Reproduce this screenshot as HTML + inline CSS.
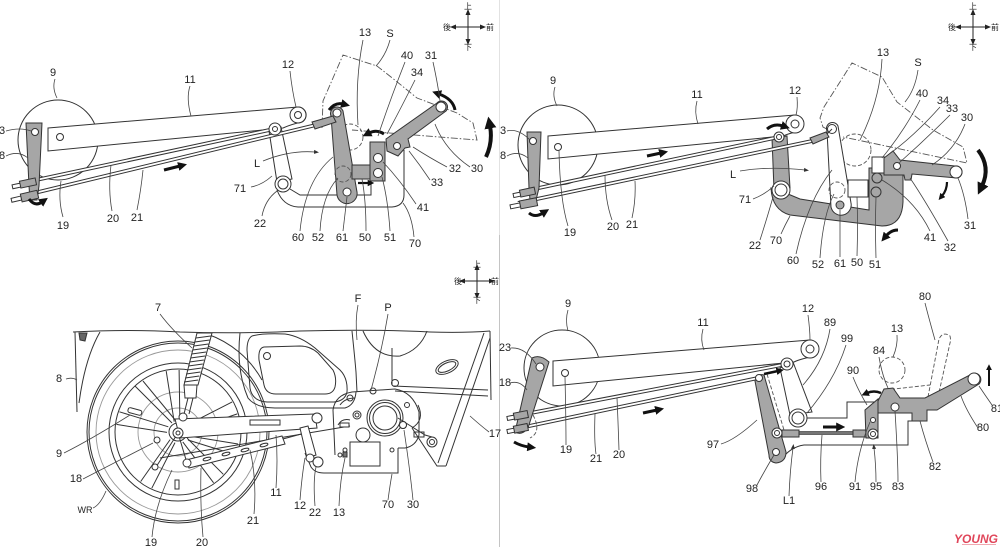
<!DOCTYPE html>
<html><head><meta charset="utf-8">
<style>
html,body{margin:0;padding:0;background:#fff}
svg{display:block}
.l{fill:none;stroke:#333;stroke-width:1}
.lg{fill:none;stroke:#999;stroke-width:0.9}
.t{fill:none;stroke:#444;stroke-width:0.8}
.w{fill:#fff;stroke:#333;stroke-width:1}
.g{fill:#a6a6a6;stroke:#333;stroke-width:1}
.d{fill:none;stroke:#555;stroke-width:0.9;stroke-dasharray:4 2}
.dd{fill:none;stroke:#555;stroke-width:0.9;stroke-dasharray:7 2 1.5 2}
.a{fill:none;stroke:#111;stroke-width:3;marker-end:url(#ah)}
.rd{stroke:#333;stroke-width:3.8;fill:none}
.ri{stroke:#fff;stroke-width:1.8;fill:none}
text{font-family:"Liberation Sans",sans-serif;font-size:11px;fill:#222;text-anchor:middle}
.c{font-family:"Liberation Sans","Noto Sans CJK JP",sans-serif;font-size:8px}
</style></head><body>
<svg width="1000" height="547" viewBox="0 0 1000 547" xmlns="http://www.w3.org/2000/svg">
<defs>
<marker id="ah" markerWidth="3" markerHeight="3" refX="0.6" refY="1.5" orient="auto" markerUnits="strokeWidth"><path d="M0,0 L3,1.5 L0,3 Z" fill="#111"/></marker>
<marker id="ca" markerWidth="6" markerHeight="6" refX="1" refY="3" orient="auto" markerUnits="userSpaceOnUse"><path d="M0,0.5 L6,3 L0,5.5 Z" fill="#222"/></marker>
<marker id="th" markerWidth="6" markerHeight="6" refX="1" refY="3" orient="auto" markerUnits="userSpaceOnUse"><path d="M0,1 L5,3 L0,5 Z" fill="#333"/></marker>
</defs>

<!-- divider -->
<line x1="499.5" y1="0" x2="499.5" y2="235" stroke="#e2e2e2" stroke-width="1"/>
<line x1="499.5" y1="235" x2="499.5" y2="547" stroke="#c4c4c4" stroke-width="1"/>

<!-- ===================== PANEL 1 ===================== -->
<g stroke="#222" stroke-width="1">
<line x1="468" y1="27" x2="468" y2="14" marker-end="url(#ca)"/>
<line x1="468" y1="27" x2="468" y2="40" marker-end="url(#ca)"/>
<line x1="468" y1="27" x2="455" y2="27" marker-end="url(#ca)"/>
<line x1="468" y1="27" x2="481" y2="27" marker-end="url(#ca)"/>
</g>
<text class="c" x="468" y="9">上</text><text class="c" x="468" y="50">下</text>
<text class="c" x="447" y="30">後</text><text class="c" x="490" y="30">前</text>

<circle cx="58" cy="140" r="40" class="w"/>
<path class="w" d="M48,128 L298,107 A8,8 0 0 1 302,122 Q292,124 283,128 L48,151 Z"/>
<circle cx="298" cy="115" r="8" class="w"/><circle cx="298" cy="115" r="3.5" class="w"/>
<circle cx="60" cy="137" r="3.5" class="w"/>

<path class="l" d="M277,190 Q283,206 298,207 L392,207 Q404,206 404,195 L404,150"/>
<path class="l" d="M290,189 L300,195 L371,195 L371,181"/>
<path class="w" d="M269,131 L281,127 L292,179 L277,182 Z"/>
<circle cx="283" cy="184" r="8" class="w"/><circle cx="283" cy="184" r="5" class="w"/>

<path class="dd" d="M322,128 L323,101 L343,55 L377,66 Q395,80 417,98 L457,113 L473,123 L477,140 L352,130"/>
<circle cx="350" cy="137" r="13" class="d"/>

<path class="g" d="M331,116 A6,6 0 0 1 343,111 L357,192 A10,10 0 0 1 337,195 Z"/>
<circle cx="343" cy="174" r="8" class="d"/>
<rect x="352" y="165" width="22" height="14" class="g"/>
<circle cx="337" cy="113" r="4" class="w"/><circle cx="347" cy="192" r="4" class="w"/>
<rect x="370" y="142" width="15" height="39" class="g"/>
<circle cx="378" cy="158" r="4.5" class="w"/><circle cx="378" cy="173" r="4.5" class="w"/>
<path class="g" d="M386,139 L437,103 A6,6 0 0 1 446,111 L408,139 L410,147 L405,148 L398,156 L387,151 Z"/>
<circle cx="441" cy="107" r="5" class="w"/><circle cx="397" cy="146" r="3.5" class="w"/>

<line x1="22" y1="183" x2="274" y2="129" class="rd"/><line x1="22" y1="183" x2="274" y2="129" class="ri"/>
<line x1="22" y1="196" x2="316" y2="125" class="rd"/><line x1="22" y1="196" x2="316" y2="125" class="ri"/>
<path class="g" d="M312,122 L333,116 L336,122 L315,129 Z"/>
<circle cx="275" cy="129" r="6" class="w"/><circle cx="275" cy="129" r="2.5" class="w"/>

<path class="g" d="M26,123 L42,123 L39,186 L37,200 L30,200 L29,186 Z"/>
<circle cx="35" cy="132" r="3.5" class="w"/>
<g transform="rotate(-12 28 183)"><rect x="12" y="181.5" width="9" height="4" class="w"/><rect x="20" y="179.5" width="16" height="7" class="g"/></g>
<g transform="rotate(-13 30 196)"><rect x="11" y="194" width="10" height="4" class="w"/><rect x="21" y="192" width="17" height="8" class="g"/></g>

<path class="a" d="M164,170 L180,166"/>
<path class="a" d="M29,199 Q35,207 42,202"/>
<path class="a" d="M329,110 Q335,102 343,104"/>
<path class="a" d="M384,134 Q377,129 369,133"/>
<path class="a" d="M455,110 Q453,99 439,94"/>
<path class="a" style="stroke-width:4" d="M486,157 Q493,142 490,126"/>
<path class="a" style="stroke-width:2.2" d="M358,183 L369,183"/>
<path class="t" d="M263,161 Q290,150 315,152" marker-end="url(#th)"/>

<g class="t">
<path d="M55,79 Q52,88 57,98"/><path d="M190,86 Q186,98 191,116"/><path d="M290,71 Q292,90 296,107"/>
<path d="M6,131 Q20,127 31,131"/><path d="M6,156 Q18,150 28,158"/>
<path d="M63,217 Q58,200 61,181"/><path d="M112,211 Q108,190 111,165"/><path d="M137,210 Q141,190 143,170"/>
<path d="M251,187 Q262,185 272,176"/><path d="M262,216 Q265,200 277,191"/>
<path d="M300,231 Q305,180 333,157"/><path d="M320,231 Q322,195 338,178"/><path d="M343,231 L347,197"/>
<path d="M366,231 Q366,200 362,179"/><path d="M390,231 Q388,200 382,177"/><path d="M414,237 Q412,215 403,203"/>
<path d="M416,204 Q400,180 383,162"/><path d="M430,180 Q420,165 409,151"/><path d="M447,167 Q430,158 413,147"/>
<path d="M470,167 Q445,150 435,124"/><path d="M415,80 Q400,110 387,134"/><path d="M405,62 Q390,100 378,136"/>
<path d="M433,62 Q438,85 440,101"/><path d="M363,40 Q355,80 358,125"/><path d="M390,40 Q386,55 376,66"/>
</g>
<text x="53" y="76">9</text><text x="190" y="83">11</text><text x="288" y="68">12</text>
<text x="2" y="134">3</text><text x="2" y="159">8</text>
<text x="63" y="229">19</text><text x="113" y="222">20</text><text x="137" y="221">21</text>
<text x="240" y="192">71</text><text x="257" y="167">L</text><text x="260" y="227">22</text>
<text x="298" y="241">60</text><text x="318" y="241">52</text><text x="342" y="241">61</text>
<text x="365" y="241">50</text><text x="390" y="241">51</text><text x="415" y="247">70</text>
<text x="423" y="211">41</text><text x="437" y="186">33</text><text x="455" y="172">32</text>
<text x="477" y="172">30</text><text x="417" y="76">34</text><text x="407" y="59">40</text>
<text x="431" y="59">31</text><text x="365" y="36">13</text><text x="390" y="37">S</text>

<!-- ===================== PANEL 2 ===================== -->
<g stroke="#222" stroke-width="1">
<line x1="973" y1="27" x2="973" y2="14" marker-end="url(#ca)"/>
<line x1="973" y1="27" x2="973" y2="40" marker-end="url(#ca)"/>
<line x1="973" y1="27" x2="960" y2="27" marker-end="url(#ca)"/>
<line x1="973" y1="27" x2="986" y2="27" marker-end="url(#ca)"/>
</g>
<text class="c" x="973" y="9">上</text><text class="c" x="973" y="50">下</text>
<text class="c" x="952" y="30">後</text><text class="c" x="995" y="30">前</text>

<circle cx="558" cy="145" r="40" class="w"/>
<path class="w" d="M548,136 L795,115 A9,9 0 0 1 800,131 Q790,133 783,136 L548,159 Z"/>
<circle cx="795" cy="124" r="9" class="w"/><circle cx="795" cy="124" r="4" class="w"/>
<circle cx="558" cy="147" r="3.5" class="w"/>

<path class="dd" d="M838,135 L823,127 L820,118 L824,107 L852,63 L882,77 L897,102 L933,130 L963,147 L967,163 L843,137"/>
<circle cx="855" cy="150" r="16" class="d"/>

<path class="g" d="M771,188 Q772,210 790,215 L882,226 Q902,226 903,202 L903,168 L869,168 L869,210 L800,199 L788,194 Z"/>
<path class="g" d="M772,138 L787,136 L790,188 L774,190 Z"/>
<circle cx="781" cy="190" r="9" class="w"/><circle cx="781" cy="190" r="6" class="w"/>
<path class="w" d="M827,131 A6,6 0 0 1 838,126 L851,203 A10,10 0 0 1 831,207 Z"/>
<circle cx="837" cy="190" r="8" class="d"/>
<rect x="848" y="180" width="20" height="17" class="w"/>
<rect x="872" y="157" width="15" height="16" class="w"/>
<circle cx="877" cy="178" r="5" class="g"/><circle cx="876" cy="192" r="5" class="g"/>
<circle cx="832" cy="129" r="4.5" class="w"/><circle cx="840" cy="205" r="4" class="g"/>
<path class="g" d="M884,158 L893,151 L900,160 L955,166 A6,6 0 0 1 957,178 L912,174 L911,180 L905,180 L904,175 L884,175 Z"/>
<circle cx="897" cy="166" r="3.5" class="w"/><circle cx="956" cy="172" r="6" class="w"/>

<line x1="520" y1="192" x2="779" y2="137" class="rd"/><line x1="520" y1="192" x2="779" y2="137" class="ri"/>
<line x1="518" y1="203" x2="812" y2="141" class="rd"/><line x1="518" y1="203" x2="812" y2="141" class="ri"/>
<path class="g" d="M810,138 L826,132 L829,137 L813,144 Z"/>
<line x1="827" y1="134" x2="832" y2="129" class="l"/>
<circle cx="779" cy="137" r="5" class="w"/><circle cx="779" cy="137" r="2.5" class="w"/>

<path class="g" d="M527,132 L541,132 L539,188 L536,200 L530,200 L529,188 Z"/>
<circle cx="533" cy="141" r="3.5" class="w"/>
<g transform="rotate(-12 528 192)"><rect x="513" y="190.5" width="8" height="4" class="w"/><rect x="520" y="188.5" width="15" height="7" class="g"/></g>
<g transform="rotate(-11 530 203)"><rect x="510" y="201" width="10" height="4" class="w"/><rect x="520" y="199" width="17" height="8" class="g"/></g>

<path class="a" d="M529,213 Q535,218 543,213"/>
<path class="a" d="M647,156 L661,153"/>
<path class="a" d="M767,129 Q774,123 783,126"/>
<path class="a" style="stroke-width:4" d="M978,150 Q991,167 982,186"/>
<path class="a" style="stroke-width:2.2" d="M947,182 Q947,190 942,196"/>
<path class="a" d="M898,230 Q891,230 886,236"/>
<path class="t" d="M740,171 Q770,166 805,170" marker-end="url(#th)"/>

<g class="t">
<path d="M555,87 Q552,96 557,106"/><path d="M697,101 Q694,112 698,124"/><path d="M797,97 Q798,108 796,115"/>
<path d="M507,131 Q518,128 530,140"/><path d="M507,156 Q518,150 528,158"/>
<path d="M568,226 Q560,200 559,151"/><path d="M612,220 Q605,200 605,175"/><path d="M632,218 Q636,200 635,181"/>
<path d="M753,199 Q764,195 774,186"/><path d="M760,240 Q768,215 773,197"/><path d="M781,234 Q785,225 790,216"/>
<path d="M796,254 Q808,200 832,170"/><path d="M820,258 Q823,215 834,194"/><path d="M840,257 L840,210"/>
<path d="M857,256 Q858,225 857,197"/><path d="M876,258 Q875,225 876,197"/>
<path d="M930,231 Q915,200 882,180"/><path d="M948,241 Q925,200 910,178"/><path d="M968,219 Q965,195 958,178"/>
<path d="M965,124 Q955,150 932,165"/><path d="M950,115 Q925,140 899,163"/><path d="M940,107 Q915,135 892,152"/>
<path d="M920,100 Q905,130 882,158"/><path d="M918,70 Q915,90 905,102"/><path d="M882,59 Q880,100 860,140"/>
</g>
<text x="553" y="84">9</text><text x="697" y="98">11</text><text x="795" y="94">12</text>
<text x="503" y="134">3</text><text x="503" y="159">8</text>
<text x="570" y="236">19</text><text x="613" y="230">20</text><text x="632" y="228">21</text>
<text x="733" y="178">L</text><text x="745" y="203">71</text><text x="755" y="249">22</text>
<text x="776" y="244">70</text><text x="793" y="264">60</text><text x="818" y="268">52</text>
<text x="840" y="267">61</text><text x="857" y="266">50</text><text x="875" y="268">51</text>
<text x="930" y="241">41</text><text x="950" y="251">32</text><text x="970" y="229">31</text>
<text x="967" y="121">30</text><text x="952" y="112">33</text><text x="943" y="104">34</text>
<text x="922" y="97">40</text><text x="918" y="66">S</text><text x="883" y="56">13</text>

<!-- ===================== PANEL 3 (motorcycle) ===================== -->
<g stroke="#222" stroke-width="1">
<line x1="477" y1="281" x2="477" y2="269" marker-end="url(#ca)"/>
<line x1="477" y1="281" x2="477" y2="294" marker-end="url(#ca)"/>
<line x1="477" y1="281" x2="464" y2="281" marker-end="url(#ca)"/>
<line x1="477" y1="281" x2="490" y2="281" marker-end="url(#ca)"/>
</g>
<text class="c" x="477" y="267">上</text><text class="c" x="477" y="303">下</text>
<text class="c" x="458" y="284">後</text><text class="c" x="495" y="284">前</text>

<g class="l">
<path d="M73,332 Q130,329 180,332 Q240,334 300,331 Q370,329 430,332 Q465,333 490,331"/>
<path d="M75,332 L77,412"/><path d="M100,332 Q85,358 79,403"/>
<path d="M79,333 L87,333 L85,341 L80,340 Z" fill="#666"/>
<circle cx="178" cy="432" r="91" class="w"/>
<circle cx="178" cy="432" r="89"/>
</g>
<circle cx="178" cy="432" r="82" class="lg"/>
<g class="l">
<circle cx="178" cy="432" r="69"/><circle cx="178" cy="432" r="63"/>
<path d="M207,334 A100,100 0 0 1 262,380"/>
</g>
<circle cx="178" cy="432" r="40" class="lg"/>
<circle cx="178" cy="432" r="24" class="lg"/>
<g class="l">
<path d="M174.2,421.7 L166.2,371.1 M179.9,421.2 L179.1,370"/>
<path d="M186.7,425.2 L232.2,401.9 M188.9,430.5 L237.3,413.9"/>
<path d="M187.1,438.1 L223.3,474.3 M182.8,441.9 L213.6,482.8"/>
<path d="M175,442.6 L151.8,488.2 M170.1,439.6 L140.7,481.5"/>
<path d="M167,432.4 L116.4,424.4 M168.3,426.8 L119.4,411.8"/>
<path d="M172,423 L135,386 M176,421 L143,381"/>
<path d="M189,436 L238,444 M188,440 L236,455"/>
<rect x="128" y="409" width="14" height="5" rx="2" transform="rotate(15 135 411)"/>
<rect x="175" y="480" width="4" height="9"/>
</g>
<circle cx="178" cy="432" r="9" class="w"/>

<!-- shock 7 -->
<path class="w" d="M197,333 L212,333 L198,385 L184,385 Z"/>
<g class="l">
<path d="M195.9,338 L210.8,336 M194.8,342 L209.7,340 M193.8,346 L208.5,344 M192.7,350 L207.4,348 M191.6,354 L206.2,352 M190.5,358 L205.1,356 M189.5,362 L203.9,360 M188.4,366 L202.8,364 M187.3,370 L201.6,368 M186.2,374 L200.5,372 M185.2,378 L199.3,376 M184.1,382 L198.2,380"/>
</g>
<path class="w" d="M184,385 L197,385 L196,398 L185,398 Z"/>
<path class="l" d="M188,398 L184,414 M193,398 L189,414"/>

<!-- side cover / frame -->
<g class="l">
<path d="M240,333 Q236,370 248,398 Q256,408 275,408 L345,408 Q355,405 356,392"/>
<path d="M252,336 Q262,333 285,334 Q300,336 315,348 L340,370 Q348,378 347,392 Q345,401 334,402 L267,402 Q252,401 250,388 L247,350 Q247,339 252,336 Z"/>
<path d="M264,347 L300,346 Q310,346 318,353 L333,370 Q337,378 335,387 Q333,394 325,394 L276,394 Q266,394 264,385 L259,360 Q258,348 264,347 Z"/>
<circle cx="267" cy="356" r="3.5"/>
<path d="M352,331 Q355,360 356,372 L357,392"/>
<path d="M363,331 Q375,358 400,356 Q420,350 427,331"/>
<path d="M392,348 L392,385"/>
<path d="M393,386 L488,390 M395,391 L488,396"/>
<path d="M490,331 L491,400"/>
<path d="M484,333 L438,463 M490,338 L446,466"/>
<path d="M412,428 L437,466 L446,466"/>
<path d="M418,405 Q425,420 412,428"/>
<ellipse cx="447" cy="367" rx="12" ry="6" transform="rotate(-25 447 367)"/>
<ellipse cx="447" cy="367" rx="9.5" ry="4" transform="rotate(-25 447 367)"/>
<circle cx="432" cy="442" r="5"/><circle cx="432" cy="442" r="2.5"/>
<circle cx="395" cy="383" r="3.5"/>
</g>

<!-- engine -->
<g class="l">
<path d="M335,455 L333,410 Q335,395 352,392 L395,389 Q413,392 419,412 L419,435 Q416,446 405,448 L398,448"/>
<path d="M340,405 Q345,398 355,398 M338,425 Q342,418 350,420"/>
<path d="M305,453 L311,467 Q315,473 324,473 L398,473 L398,448"/>
<rect x="350" y="442" width="30" height="24"/>
<circle cx="385" cy="418" r="18" class="w"/><circle cx="385" cy="418" r="15.5"/><circle cx="385" cy="418" r="12"/>
<circle cx="363" cy="435" r="7" class="w"/>
<circle cx="357" cy="415" r="4"/><circle cx="357" cy="415" r="2"/>
<circle cx="403" cy="425" r="3.5"/><circle cx="407" cy="405" r="2.5"/>
<circle cx="350" cy="398" r="3"/><circle cx="373" cy="391" r="3"/>
<circle cx="345" cy="450" r="2"/><circle cx="392" cy="450" r="2"/><circle cx="340" cy="455" r="2"/>
<path d="M398,418 L425,435 L432,437"/>
<rect x="414" y="432" width="10" height="5"/>
<rect x="343" y="452" width="4" height="5" fill="#777"/>
</g>

<!-- swingarm, rods -->
<path class="w" d="M175,419 L315,414 L317,428 L180,438 Z"/>
<path class="l" d="M160,458 L350,426"/>
<path class="l" d="M187,465 L305,433"/>
<path class="w" d="M186,460 L282,436 L285,444 L189,468 Z"/>
<g class="l">
<ellipse cx="207" cy="459" rx="4" ry="1.5" transform="rotate(-14 207 459)"/>
<ellipse cx="226" cy="454" rx="4" ry="1.5" transform="rotate(-14 226 454)"/>
<ellipse cx="245" cy="450" rx="4" ry="1.5" transform="rotate(-14 245 450)"/>
<ellipse cx="264" cy="445" rx="4" ry="1.5" transform="rotate(-14 264 445)"/>
<path d="M178,433 L187,463 M178,433 L156,467"/>
<rect x="250" y="420" width="30" height="5"/>
</g>
<path class="w" d="M300,428 L308,426 L316,455 L307,458 Z"/>
<rect x="340" y="423" width="9" height="4" class="w"/>
<circle cx="183" cy="417" r="4" class="w"/><circle cx="178" cy="433" r="5" class="w"/><circle cx="178" cy="433" r="2" class="w"/>
<circle cx="187" cy="463" r="4" class="w"/><circle cx="155" cy="467" r="3" class="w"/><circle cx="157" cy="440" r="3" class="w"/>
<circle cx="317" cy="418" r="5" class="w"/><circle cx="310" cy="458" r="4" class="w"/><circle cx="318" cy="462" r="5" class="w"/>
<circle cx="403" cy="425" r="3.5" class="w"/>

<g class="t">
<path d="M160,314 Q172,330 192,348"/><path d="M358,305 Q355,320 357,340"/><path d="M388,314 Q382,350 371,390"/>
<path d="M66,379 Q72,377 77,380"/><path d="M64,453 Q90,440 130,415"/><path d="M83,479 Q110,465 153,443"/>
<path d="M93,508 Q100,505 106,491"/><path d="M152,537 Q155,505 172,470"/><path d="M203,537 Q200,505 201,468"/>
<path d="M254,514 Q257,480 250,450"/><path d="M276,488 Q278,460 276,435"/><path d="M300,500 Q302,475 305,458"/>
<path d="M315,506 Q313,480 316,467"/><path d="M339,506 Q340,480 345,458"/><path d="M388,500 Q390,485 392,474"/>
<path d="M413,500 Q410,470 404,430"/><path d="M489,432 Q480,425 470,416"/>
</g>
<text x="158" y="311">7</text><text x="358" y="302">F</text><text x="388" y="311">P</text>
<text x="59" y="382">8</text><text x="59" y="457">9</text><text x="76" y="482">18</text>
<text x="85" y="513" style="font-size:9px">WR</text>
<text x="151" y="546">19</text><text x="202" y="546">20</text><text x="253" y="524">21</text>
<text x="276" y="496">11</text><text x="300" y="509">12</text><text x="315" y="516">22</text>
<text x="339" y="516">13</text><text x="388" y="508">70</text><text x="413" y="508">30</text>
<text x="495" y="437">17</text>

<!-- ===================== PANEL 4 ===================== -->
<circle cx="562" cy="368" r="38" class="w"/>
<path class="w" d="M553,361 L810,340 A9,9 0 0 1 815,356 Q800,359 794,362 L553,386 Z"/>
<circle cx="810" cy="349" r="9" class="w"/><circle cx="810" cy="349" r="4" class="w"/>
<circle cx="565" cy="373" r="3.5" class="w"/>

<circle cx="892" cy="370" r="13" class="d"/>
<path class="d" d="M928,397 L939,339 Q943,331 950,336 Q951,340 950,343 L938,397"/>
<path class="d" d="M885,390 L930,385"/>

<g class="l">
<path d="M806,418 L847,418 L847,402 L880,402"/>
<path d="M913,421 L908,421 L908,445 L804,445 Q790,447 781,460"/>
</g>
<path class="w" d="M780,368 L793,362 L812,412 L790,415 Z"/>
<circle cx="798" cy="418" r="9" class="w"/><circle cx="798" cy="418" r="6" class="w"/>
<path class="g" d="M755,381 Q756,373 764,375 L786,452 Q786,462 776,463 Q769,462 769,455 Z"/>
<path class="d" d="M767,374 L784,430"/>
<line x1="790" y1="433" x2="862" y2="433" stroke="#333" stroke-width="3.6"/>
<line x1="790" y1="433" x2="862" y2="433" stroke="#8c8c8c" stroke-width="1.6"/>
<rect x="782" y="430" width="17" height="7" class="g"/><rect x="853" y="430" width="15" height="7" class="g"/>
<path class="g" d="M865,410 L878,399 L878,438 L866,438 Z"/>
<circle cx="873" cy="420" r="2.5" class="w"/>
<path class="g" d="M878,401 L884,389 L893,388 L900,398 L925,398 L970,375 A6,6 0 0 1 979,384 L937,410 L927,410 L927,421 L912,421 L912,413 L878,413 Z"/>
<circle cx="895" cy="407" r="4" class="w"/><circle cx="974" cy="379" r="6" class="w"/>
<circle cx="873" cy="434" r="5" class="w"/><circle cx="873" cy="434" r="2.5" class="w"/>
<circle cx="777" cy="433" r="5" class="w"/><circle cx="777" cy="433" r="2.5" class="w"/>
<circle cx="776" cy="452" r="3.5" class="w"/>

<line x1="515" y1="416" x2="787" y2="364" class="rd"/><line x1="515" y1="416" x2="787" y2="364" class="ri"/>
<line x1="515" y1="429" x2="758" y2="378" class="rd"/><line x1="515" y1="429" x2="758" y2="378" class="ri"/>
<circle cx="787" cy="364" r="6" class="w"/><circle cx="787" cy="364" r="3" class="w"/>
<circle cx="759" cy="378" r="3.5" class="w"/>

<path class="g" d="M532,358 Q540,354 549,362 L528,428 Q522,436 515,432 Z"/>
<circle cx="540" cy="367" r="4" class="w"/>
<path class="d" d="M533,415 Q542,432 530,438"/>
<g transform="rotate(-11 520 416)"><rect x="507" y="414" width="8" height="4" class="w"/><rect x="514" y="412" width="14" height="7" class="g"/></g>
<g transform="rotate(-11.5 520 429)"><rect x="507" y="427" width="8" height="4" class="w"/><rect x="514" y="425" width="14" height="7" class="g"/></g>

<path class="a" d="M514,442 Q521,446 529,447"/>
<path class="a" d="M643,413 L657,410"/>
<path class="a" style="stroke-width:2.5" d="M764,374 L778,371"/>
<path class="a" d="M823,427 L838,427"/>
<path class="a" style="stroke-width:2.5" d="M881,393 Q874,390 867,393"/>
<path class="a" style="stroke-width:2" d="M989,386 L989,369"/>

<g class="t">
<path d="M568,310 Q565,320 568,331"/><path d="M703,329 Q700,340 704,350"/><path d="M808,315 Q810,330 810,340"/>
<path d="M830,329 Q825,360 803,385"/><path d="M846,345 Q835,380 807,413"/><path d="M897,335 Q898,345 893,357"/>
<path d="M925,303 Q928,315 935,340"/><path d="M879,357 Q882,375 888,388"/><path d="M853,377 Q858,390 867,405"/>
<path d="M992,405 Q985,395 979,386"/><path d="M978,428 Q966,410 961,396"/><path d="M933,462 Q925,440 920,421"/>
<path d="M898,482 Q898,460 895,411"/><path d="M855,482 Q858,450 870,422"/><path d="M821,482 Q820,460 822,435"/>
<path d="M757,485 Q765,470 774,455"/><path d="M721,444 Q735,440 757,420"/>
<path d="M511,348 Q525,347 536,364"/><path d="M510,383 Q520,380 527,390"/>
<path d="M566,445 Q566,420 565,377"/><path d="M596,454 Q594,440 595,414"/><path d="M619,450 Q618,420 617,398"/>
</g>
<path class="t" d="M876,482 Q876,465 874,448" marker-end="url(#th)"/>
<path class="t" d="M789,496 Q790,470 793,448" marker-end="url(#th)"/>
<text x="568" y="307">9</text><text x="703" y="326">11</text><text x="808" y="312">12</text>
<text x="830" y="326">89</text><text x="847" y="342">99</text><text x="897" y="332">13</text>
<text x="925" y="300">80</text><text x="879" y="354">84</text><text x="853" y="374">90</text>
<text x="997" y="412">81</text><text x="983" y="431">80</text><text x="935" y="470">82</text>
<text x="898" y="490">83</text><text x="876" y="490">95</text><text x="855" y="490">91</text>
<text x="821" y="490">96</text><text x="789" y="504">L1</text><text x="752" y="492">98</text>
<text x="713" y="448">97</text><text x="505" y="351">23</text><text x="505" y="386">18</text>
<text x="566" y="453">19</text><text x="596" y="462">21</text><text x="619" y="458">20</text>

<!-- logo -->
<text x="976" y="543" style="font-size:12px;font-weight:bold;font-style:italic;fill:#e0465a">YOUNG</text>
<rect x="962" y="544" width="34" height="1" fill="#f0a8b0"/>
</svg>
</body></html>
